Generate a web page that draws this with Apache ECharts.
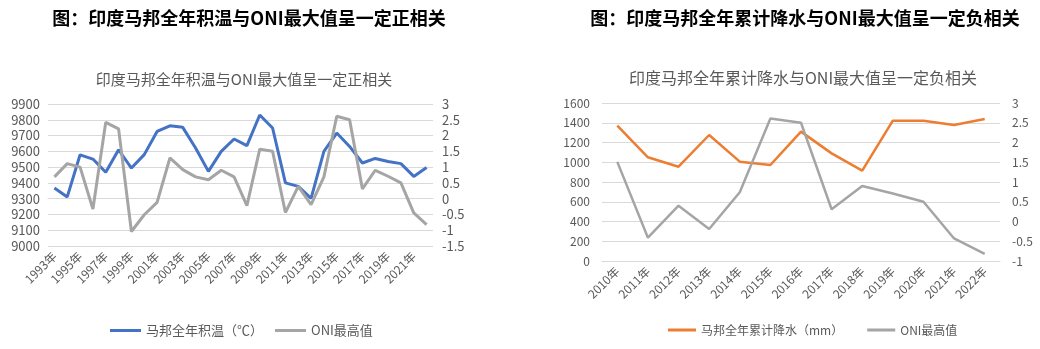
<!DOCTYPE html>
<html>
<head>
<meta charset="utf-8">
<script src="https://cdn.jsdelivr.net/npm/echarts@6/dist/echarts.min.js"></script>
<style>
html,body{margin:0;padding:0;background:#fff;}
#c{width:1040px;height:349px;}
</style>
</head>
<body>
<div id="c"></div>
<script>
// ---- Left chart data ----
const yearsA = ['1993年','1994年','1995年','1996年','1997年','1998年','1999年','2000年','2001年','2002年','2003年','2004年','2005年','2006年','2007年','2008年','2009年','2010年','2011年','2012年','2013年','2014年','2015年','2016年','2017年','2018年','2019年','2020年','2021年','2022年'];
const heatSum = [9368,9311,9578,9551,9467,9610,9494,9579,9726,9762,9752,9621,9473,9600,9678,9636,9830,9748,9400,9378,9302,9600,9716,9631,9526,9555,9536,9522,9441,9498];
const oniA = [0.69,1.11,1.0,-0.33,2.42,2.21,-1.04,-0.51,-0.12,1.29,0.92,0.69,0.60,0.90,0.69,-0.22,1.57,1.50,-0.44,0.39,-0.19,0.69,2.61,2.50,0.31,0.90,0.71,0.50,-0.45,-0.82];
// ---- Right chart data ----
const yearsB = ['2010年','2011年','2012年','2013年','2014年','2015年','2016年','2017年','2018年','2019年','2020年','2021年','2022年'];
const rain = [1370,1050,955,1276,1006,972,1310,1090,915,1421,1421,1377,1438];
const oniB = [1.51,-0.41,0.40,-0.19,0.74,2.61,2.50,0.31,0.90,0.71,0.50,-0.43,-0.82];

const txt = '#595959';
const gridC = '#d9d9d9';
const ff = '"Noto Sans CJK SC", "Liberation Sans", sans-serif';
const plain = v => String(v);

const chart = echarts.init(document.getElementById('c'), null, {renderer:'canvas'});
chart.setOption({
  animation:false,
  backgroundColor:'#fff',
  textStyle:{fontFamily:ff},
  title:[
    {text:'图：印度马邦全年积温与ONI最大值呈一定正相关', left:244, top:4, textAlign:'center',
     textStyle:{fontSize:18, fontWeight:'bold', color:'#000', fontFamily:ff}},
    {text:'图：印度马邦全年累计降水与ONI最大值呈一定负相关', left:800, top:4, textAlign:'center',
     textStyle:{fontSize:18, fontWeight:'bold', color:'#000', fontFamily:ff}},
    {text:'印度马邦全年积温与ONI最大值呈一定正相关', left:239, top:67, textAlign:'center',
     textStyle:{fontSize:15, fontWeight:'normal', color:txt, fontFamily:ff}},
    {text:'印度马邦全年累计降水与ONI最大值呈一定负相关', left:798, top:65, textAlign:'center',
     textStyle:{fontSize:16, fontWeight:'normal', color:txt, fontFamily:ff}}
  ],
  legend:[
    {data:['马邦全年积温（℃）','ONI最高值'], left:105, top:319, itemWidth:31, itemHeight:3, itemGap:12,
     icon:'rect', textStyle:{fontSize:13, color:txt}},
    {data:['马邦全年累计降水（mm）',{name:'ONI最高值 '}], left:663, top:319, itemWidth:28, itemHeight:3, itemGap:24,
     icon:'rect', textStyle:{fontSize:12, color:txt}}
  ],
  grid:[
    {left:48, right:1040-433, top:104, bottom:349-246},
    {left:602, right:1040-1000, top:103, bottom:349-261}
  ],
  xAxis:[
    {type:'category', gridIndex:0, data:yearsA, boundaryGap:true,
     axisLine:{show:true, lineStyle:{color:gridC}}, axisTick:{show:false},
     axisLabel:{interval:1, rotate:45, fontSize:12, color:txt, margin:8}},
    {type:'category', gridIndex:1, data:yearsB, boundaryGap:true,
     axisLine:{show:true, lineStyle:{color:gridC}}, axisTick:{show:false},
     axisLabel:{interval:0, rotate:45, fontSize:12, color:txt, margin:8}}
  ],
  yAxis:[
    {type:'value', gridIndex:0, min:9000, max:9900, interval:100, position:'left',
     axisLine:{show:false}, axisTick:{show:false},
     axisLabel:{fontSize:13, color:txt, margin:8, formatter:plain},
     splitLine:{lineStyle:{color:gridC, width:1}}},
    {type:'value', gridIndex:0, min:-1.5, max:3, interval:0.5, position:'right',
     axisLine:{show:false}, axisTick:{show:false},
     axisLabel:{fontSize:13, color:txt, margin:9, formatter:plain}, splitLine:{show:false}},
    {type:'value', gridIndex:1, min:0, max:1600, interval:200, position:'left',
     axisLine:{show:false}, axisTick:{show:false},
     axisLabel:{fontSize:12, color:txt, margin:12, formatter:plain},
     splitLine:{lineStyle:{color:gridC, width:1}}},
    {type:'value', gridIndex:1, min:-1, max:3, interval:0.5, position:'right',
     axisLine:{show:false}, axisTick:{show:false},
     axisLabel:{fontSize:12, color:txt, margin:12, formatter:plain}, splitLine:{show:false}}
  ],
  series:[
    {name:'马邦全年积温（℃）', type:'line', xAxisIndex:0, yAxisIndex:0, data:heatSum,
     symbol:'none', itemStyle:{color:'#4472C4'}, lineStyle:{color:'#4472C4', width:3}},
    {name:'ONI最高值', type:'line', xAxisIndex:0, yAxisIndex:1, data:oniA,
     symbol:'none', itemStyle:{color:'#A5A5A5'}, lineStyle:{color:'#A5A5A5', width:3}},
    {name:'马邦全年累计降水（mm）', type:'line', xAxisIndex:1, yAxisIndex:2, data:rain,
     symbol:'none', itemStyle:{color:'#ED7D31'}, lineStyle:{color:'#ED7D31', width:2.5}},
    {name:'ONI最高值 ', type:'line', xAxisIndex:1, yAxisIndex:3, data:oniB,
     symbol:'none', itemStyle:{color:'#A5A5A5'}, lineStyle:{color:'#A5A5A5', width:2.5}}
  ]
});
</script>
</body>
</html>
